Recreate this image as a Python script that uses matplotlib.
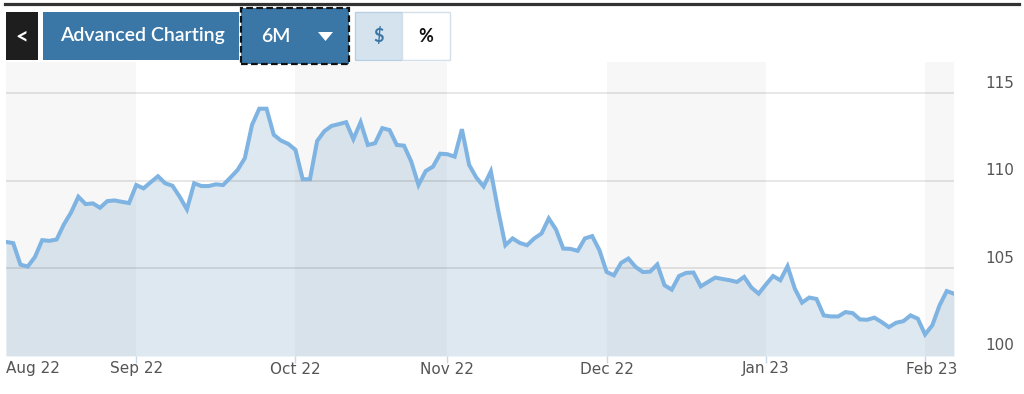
import matplotlib
matplotlib.use("Agg")
import matplotlib.pyplot as plt
from matplotlib.patches import Rectangle, Polygon
from matplotlib.lines import Line2D
from matplotlib.transforms import blended_transform_factory, offset_copy

# price per weekday, 8 Aug 2022 .. 7 Feb 2023
prices = [
    106.52, 106.45, 105.22, 105.11, 105.66, 106.62, 106.58, 106.66, 107.52, 108.21,
    109.10, 108.68, 108.72, 108.47, 108.85, 108.89, 108.81, 108.74, 109.77, 109.58,
    109.93, 110.27, 109.87, 109.73, 109.10, 108.38, 109.87, 109.71, 109.71, 109.81,
    109.77, 110.19, 110.63, 111.30, 113.21, 114.13, 114.13, 112.64, 112.31, 112.12,
    111.78, 110.10, 110.10, 112.29, 112.85, 113.15, 113.25, 113.36, 112.39, 113.36,
    112.06, 112.16, 113.02, 112.91, 112.06, 112.02, 111.11, 109.77, 110.57, 110.82,
    111.56, 111.53, 111.39, 112.96, 110.92, 110.19, 109.69, 110.55, 108.34, 106.33,
    106.72, 106.46, 106.33, 106.72, 107.00, 107.86, 107.23, 106.14, 106.12, 106.01,
    106.72, 106.85, 106.05, 104.80, 104.61, 105.32, 105.57, 105.09, 104.80, 104.82,
    105.23, 104.04, 103.79, 104.57, 104.75, 104.77, 103.98, 104.23, 104.48, 104.40,
    104.33, 104.23, 104.52, 103.91, 103.56, 104.08, 104.57, 104.33, 105.13, 103.85,
    103.05, 103.34, 103.26, 102.32, 102.26, 102.26, 102.51, 102.45, 102.09, 102.07,
    102.19, 101.94, 101.65, 101.90, 101.99, 102.32, 102.13, 101.23, 101.75, 102.89,
    103.71, 103.56,
]
# weekday index of the first weekday of each month
month_idx = [18, 40, 61, 83, 105, 127]
month_labels = ["Sep 22", "Oct 22", "Nov 22", "Dec 22", "Jan 23", "Feb 23"]
first_label = "Aug 22"
y_ticks = [100, 105, 110, 115]

W, H = 1024, 394
fig = plt.figure(figsize=(W / 100, H / 100), dpi=100)
fig.patch.set_facecolor("white")


def fx(x):
    return x / W


def fy(y):
    return 1 - y / H


ax = fig.add_axes([fx(6), fy(356), (954 - 6) / W, (356 - 62) / H])
x = list(range(len(prices)))
ax.set_xlim(0, len(prices) - 1)
ax.set_ylim(100, 116.8)

# alternating month bands
edges = [0] + month_idx + [len(prices) - 1]
for k in range(len(edges) - 1):
    if k % 2 == 0:
        ax.axvspan(edges[k], edges[k + 1], color="#f7f7f7", lw=0, zorder=0)

ax.fill_between(x, prices, 100, color="#80a9c8", alpha=0.26, lw=0, zorder=1)
for v in y_ticks[1:]:
    ax.axhline(v, color="black", alpha=0.1, lw=1.3, zorder=2)
ax.plot(x, prices, color="#7fb3e2", lw=2.9, solid_joinstyle="miter", zorder=3)

for s in ax.spines.values():
    s.set_visible(False)
ax.set_yticks([])
ax.set_xticks(month_idx)
ax.set_xticklabels([])
ax.tick_params(axis="x", length=5, width=1, color="#ccd6eb")

tf = blended_transform_factory(ax.transData, ax.transAxes)
lab_kw = dict(fontsize=11, color="#555555", family="DejaVu Sans", va="center")
ax.text(0, 0, first_label, ha="left",
        transform=offset_copy(tf, fig=fig, x=0, y=-13, units="dots"), **lab_kw)
for i, (m, lab) in enumerate(zip(month_idx, month_labels)):
    dx = 7 if i == len(month_idx) - 1 else 0
    ax.text(m, 0, lab, ha="center",
            transform=offset_copy(tf, fig=fig, x=dx, y=-13, units="dots"), **lab_kw)

ty = blended_transform_factory(ax.transAxes, ax.transData)
for v in y_ticks:
    ax.text(1, v, str(v), ha="left",
            transform=offset_copy(ty, fig=fig, x=31, y=10, units="dots"), **lab_kw)

# toolbar above the chart
fig.add_artist(Line2D([fx(5), fx(1019)], [fy(4), fy(4)], color="#333333", lw=2.3))


def box(x0, y0, x1, y1, **kw):
    fig.add_artist(Rectangle((fx(x0), fy(y1)), fx(x1) - fx(x0), fy(y0) - fy(y1), **kw))


box(6, 12, 38, 60, facecolor="#1e1e1e", lw=0)
fig.text(fx(22), fy(37), "<", color="white", fontsize=16, fontweight="bold",
         family="Lato", ha="center", va="center")
box(43, 12, 239, 60, facecolor="#3a77a7", lw=0)
fig.text(fx(142), fy(36), "Advanced Charting", color="white", fontsize=14,
         fontweight=600, family="Lato", ha="center", va="center")
box(241, 8, 349, 64, facecolor="#3a77a7", edgecolor="#111111", lw=1.6,
    linestyle=(0, (3, 1.5)))
fig.text(fx(276), fy(36), "6M", color="white", fontsize=14, fontweight=600,
         family="Lato", ha="center", va="center")
fig.add_artist(Polygon([(fx(318), fy(32)), (fx(333), fy(32)), (fx(325.5), fy(41))],
                       closed=True, facecolor="white", lw=0))
box(355, 12, 402, 60, facecolor="#d5e3ef", edgecolor="#b8cfe2", lw=1)
fig.text(fx(378.5), fy(36), "$", color="#3a77a7", fontsize=13, fontweight="bold",
         family="Lato", ha="center", va="center")
box(402, 12, 450, 60, facecolor="white", edgecolor="#d3dfe9", lw=1)
fig.text(fx(426), fy(36), "%", color="#111111", fontsize=13, fontweight="bold",
         family="Lato", ha="center", va="center")

fig.savefig("out.png", dpi=100)
